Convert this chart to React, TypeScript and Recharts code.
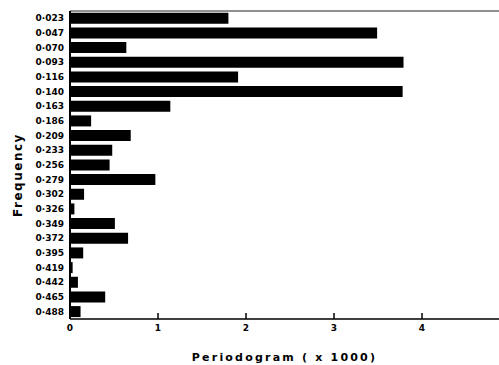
import { Bar, BarChart, XAxis, YAxis } from 'recharts'

// Frequencies k/43 (cycles per unit), as printed on the left axis.
const frequencies = [
  '0·023', '0·047', '0·070', '0·093', '0·116', '0·140', '0·163',
  '0·186', '0·209', '0·233', '0·256', '0·279', '0·302', '0·326',
  '0·349', '0·372', '0·395', '0·419', '0·442', '0·465', '0·488',
]

// Periodogram ordinates (x 1000).
const periodogram = [
  1.8, 3.49, 0.64, 3.79, 1.91, 3.78, 1.14,
  0.24, 0.69, 0.48, 0.45, 0.97, 0.16, 0.05,
  0.51, 0.66, 0.15, 0.03, 0.09, 0.4, 0.12,
]

const xTicks = [0, 1, 2, 3, 4]

const CHART_WIDTH = 491
const CHART_HEIGHT = 357
const X_MAX = 4.875
const FONT = '"DejaVu Sans", Arial, sans-serif'

const data = frequencies.map((freq, i) => ({ freq, value: periodogram[i] }))

function FreqTick({ x, y, payload }: any) {
  return (
    <text
      x={x}
      y={y}
      dy={3}
      textAnchor="end"
      fontSize={9}
      fontWeight="bold"
      fontFamily={FONT}
      fill="#000"
    >
      {payload.value}
    </text>
  )
}

function ValueTick({ x, y, payload }: any) {
  return (
    <g>
      <line x1={x} x2={x} y1={y} y2={y - 6} stroke="#000" strokeWidth={1.5} />
      <text
        x={x}
        y={y + 12}
        textAnchor="middle"
        fontSize={9}
        fontWeight="bold"
        fontFamily={FONT}
        fill="#000"
      >
        {payload.value}
      </text>
    </g>
  )
}

function FreqLabel({ viewBox }: any) {
  const cx = viewBox.x + 10
  const cy = viewBox.y + viewBox.height / 2 + 10
  return (
    <text
      x={cx}
      y={cy}
      transform={`rotate(-90, ${cx}, ${cy})`}
      textAnchor="middle"
      dominantBaseline="central"
      fontSize={12}
      fontWeight="bold"
      letterSpacing={1.5}
      fontFamily={FONT}
      fill="#000"
    >
      Frequency
    </text>
  )
}

export default function App() {
  return (
    <>
      {/* page is exactly 499x365: drop the body margin, pad the chart instead */}
      <style>{'html, body { margin: 0; overflow: hidden; }'}</style>
      <div style={{ padding: '8px 0 0 8px', width: CHART_WIDTH, height: CHART_HEIGHT }}>
        <BarChart
          width={CHART_WIDTH}
          height={CHART_HEIGHT}
          data={data}
          layout="vertical"
          margin={{ top: 2, right: 0, bottom: 0, left: 0 }}
          barCategoryGap="12%"
        >
          <XAxis
            xAxisId="top"
            orientation="top"
            type="number"
            domain={[0, X_MAX]}
            height={1}
            tick={false}
            tickLine={false}
            axisLine={{ stroke: '#222', strokeWidth: 1.2 }}
          />
          <XAxis
            type="number"
            domain={[0, X_MAX]}
            ticks={xTicks}
            allowDataOverflow
            height={46}
            tickSize={0}
            tickMargin={0}
            tickLine={false}
            tick={<ValueTick />}
            axisLine={{ stroke: '#000', strokeWidth: 1.5 }}
            label={{
              value: 'Periodogram ( x 1000)',
              position: 'insideBottom',
              offset: 4,
              style: {
                fontSize: 11,
                fontWeight: 600,
                letterSpacing: 2.2,
                fontFamily: FONT,
                fill: '#000',
              },
            }}
          />
          <YAxis
            type="category"
            dataKey="freq"
            width={62}
            tickSize={0}
            tickMargin={6}
            tickLine={false}
            interval={0}
            tick={<FreqTick />}
            axisLine={{ stroke: '#000', strokeWidth: 2 }}
            label={{ content: <FreqLabel /> }}
          />
          <Bar dataKey="value" fill="#000" isAnimationActive={false} />
        </BarChart>
      </div>
    </>
  )
}
